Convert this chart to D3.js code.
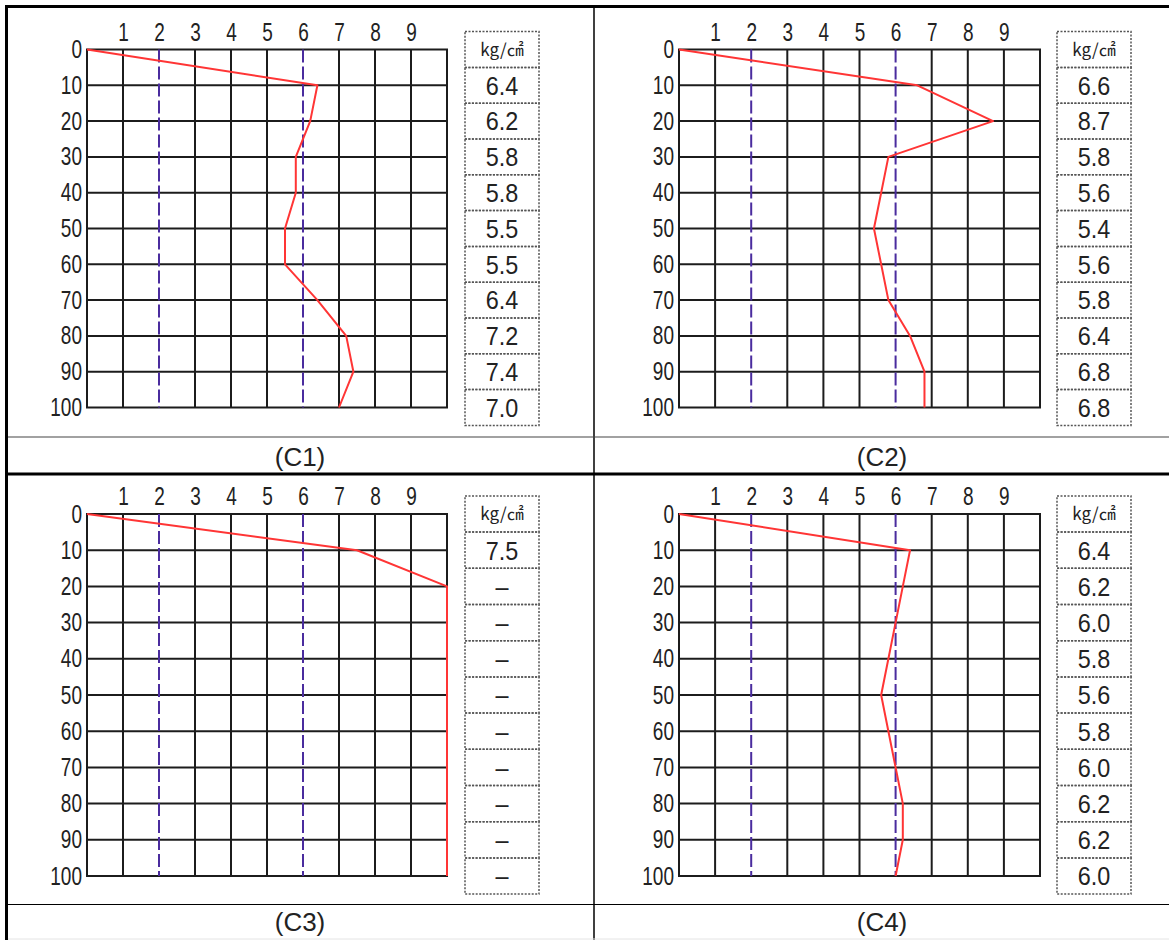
<!DOCTYPE html>
<html>
<head>
<meta charset="utf-8">
<script src="https://cdn.jsdelivr.net/npm/d3@7"></script>
<style>
  html, body { margin: 0; padding: 0; background: #fff; }
  svg { display: block; }
</style>
</head>
<body>
<svg id="chart" width="1169" height="940"></svg>
<script>
// Penetration depth (cm) and resistance scale (kg/cm²)
const depths = [0, 10, 20, 30, 40, 50, 60, 70, 80, 90, 100];
const strengthTicks = [1, 2, 3, 4, 5, 6, 7, 8, 9];
const strengthGrid = [0, 1, 3, 4, 5, 7, 8, 9, 10];
const referenceLines = [2, 6];
const unitLabel = "kg/㎠";

// Measured resistance at 10..100 cm; null = beyond the gauge range
const c1Values = [6.4, 6.2, 5.8, 5.8, 5.5, 5.5, 6.4, 7.2, 7.4, 7.0];
const c2Values = [6.6, 8.7, 5.8, 5.6, 5.4, 5.6, 5.8, 6.4, 6.8, 6.8];
const c3Values = [7.5, null, null, null, null, null, null, null, null, null];
const c4Values = [6.4, 6.2, 6.0, 5.8, 5.6, 5.8, 6.0, 6.2, 6.2, 6.0];

const panelNames = ["(C1)", "(C2)", "(C3)", "(C4)"];
const panelSeries = [c1Values, c2Values, c3Values, c4Values];

const svg = d3.select("#chart");
const NUM_FONT = "'Liberation Sans', Arial, sans-serif";

// panel frames: plot origin and extents
const layout = [
  { x: [87, 447],  y: [49.5, 407.5], labelX: 300, labelY: 457 },
  { x: [679, 1040], y: [49.5, 407.5], labelX: 882, labelY: 457 },
  { x: [87, 447],  y: [514, 876],    labelX: 300, labelY: 922 },
  { x: [679, 1040], y: [514, 876],    labelX: 882, labelY: 922 }
];

panelSeries.forEach((values, i) => {
  const L = layout[i];
  const x = d3.scaleLinear().domain([0, 10]).range(L.x);
  const y = d3.scaleLinear().domain([0, 100]).range(L.y);
  const g = svg.append("g");

  // grid
  g.selectAll("line.v").data(strengthGrid).join("line")
    .attr("x1", d => x(d)).attr("x2", d => x(d))
    .attr("y1", y(0)).attr("y2", y(100))
    .attr("stroke", "#1c1c1c").attr("stroke-width", 2);
  g.selectAll("line.h").data(depths).join("line")
    .attr("x1", x(0) - 1).attr("x2", x(10) + 1)
    .attr("y1", d => y(d)).attr("y2", d => y(d))
    .attr("stroke", "#1c1c1c").attr("stroke-width", 2);

  // reference lines
  g.selectAll("line.ref").data(referenceLines).join("line")
    .attr("x1", d => x(d)).attr("x2", d => x(d))
    .attr("y1", y(0)).attr("y2", y(100))
    .attr("stroke", "#4a2c9e").attr("stroke-width", 2)
    .attr("stroke-dasharray", "13,4");

  // axes (condensed digits)
  const xAxis = g.append("g").attr("transform", `translate(0,${y(0)})`)
    .call(d3.axisTop(x).tickValues(strengthTicks).tickSize(0).tickPadding(9).tickFormat(d3.format("d")));
  const yAxis = g.append("g").attr("transform", `translate(${x(0)},0)`)
    .call(d3.axisLeft(y).tickValues(depths).tickSize(0).tickPadding(5).tickFormat(d3.format("d")));
  [xAxis, yAxis].forEach(a => {
    a.select(".domain").remove();
    a.attr("font-family", NUM_FONT).attr("font-size", 25);
    a.selectAll("text").attr("fill", "#222");
  });
  xAxis.selectAll("text").attr("transform", "scale(0.76,1)");
  yAxis.selectAll("text").attr("x", 0).attr("transform", "translate(-5,0) scale(0.76,1)");

  // resistance profile
  const maxV = x.domain()[1];
  const pts = [{ d: 0, v: 0 }].concat(values.map((v, k) => ({ d: depths[k + 1], v: v == null ? maxV : v })));
  g.append("path").datum(pts)
    .attr("fill", "none").attr("stroke", "#ff3535").attr("stroke-width", 2)
    .attr("stroke-linejoin", "round")
    .attr("d", d3.line().x(p => x(p.v)).y(p => y(p.d)));

  // value table
  const bx = x(0) + 378, bw = 74;
  const rows = [{ d: 0, t: unitLabel }].concat(values.map((v, k) => ({ d: depths[k + 1], t: v == null ? "–" : v.toFixed(1) })));
  g.selectAll("rect.cell").data(rows).join("rect")
    .attr("x", bx).attr("width", bw)
    .attr("y", r => y(r.d - 5)).attr("height", r => y(r.d + 5) - y(r.d - 5))
    .attr("fill", "none").attr("stroke", "#555").attr("stroke-width", 1.5)
    .attr("stroke-dasharray", "2,1.5");
  g.selectAll("text.cell").data(rows).join("text")
    .attr("x", bx + bw / 2).attr("y", r => y(r.d)).attr("dy", "0.36em")
    .attr("text-anchor", "middle")
    .attr("font-family", (r, k) => k === 0 ? "'Noto Sans CJK KR', sans-serif" : NUM_FONT)
    .attr("font-size", (r, k) => k === 0 ? 17 : 26)
    .attr("fill", "#222")
    .attr("transform", (r, k) => k === 0 ? null : `translate(${bx + bw / 2},0) scale(0.9,1) translate(${-(bx + bw / 2)},0)`)
    .text(r => r.t);

  // caption
  svg.append("text").attr("x", L.labelX).attr("y", L.labelY).attr("dy", "0.36em")
    .attr("text-anchor", "middle")
    .attr("font-family", "'Liberation Sans', Arial, sans-serif").attr("font-size", 26)
    .attr("fill", "#222").text(panelNames[i]);
});

// table frame
const frame = svg.append("g").attr("stroke", "#000");
frame.append("line").attr("x1", 5).attr("x2", 1169).attr("y1", 6.5).attr("y2", 6.5).attr("stroke-width", 3);
frame.append("line").attr("x1", 6.5).attr("x2", 6.5).attr("y1", 5).attr("y2", 940).attr("stroke-width", 3);
frame.append("line").attr("x1", 594).attr("x2", 594).attr("y1", 8).attr("y2", 940).attr("stroke-width", 1.5);
frame.append("line").attr("x1", 8).attr("x2", 1169).attr("y1", 437).attr("y2", 437).attr("stroke-width", 1.2).attr("stroke", "#444");
frame.append("line").attr("x1", 8).attr("x2", 1169).attr("y1", 474).attr("y2", 474).attr("stroke-width", 3);
frame.append("line").attr("x1", 8).attr("x2", 1169).attr("y1", 904.5).attr("y2", 904.5).attr("stroke-width", 1.2);
frame.append("line").attr("x1", 8).attr("x2", 1169).attr("y1", 939).attr("y2", 939).attr("stroke-width", 1).attr("stroke", "#e4e4e4");
</script>
</body>
</html>
